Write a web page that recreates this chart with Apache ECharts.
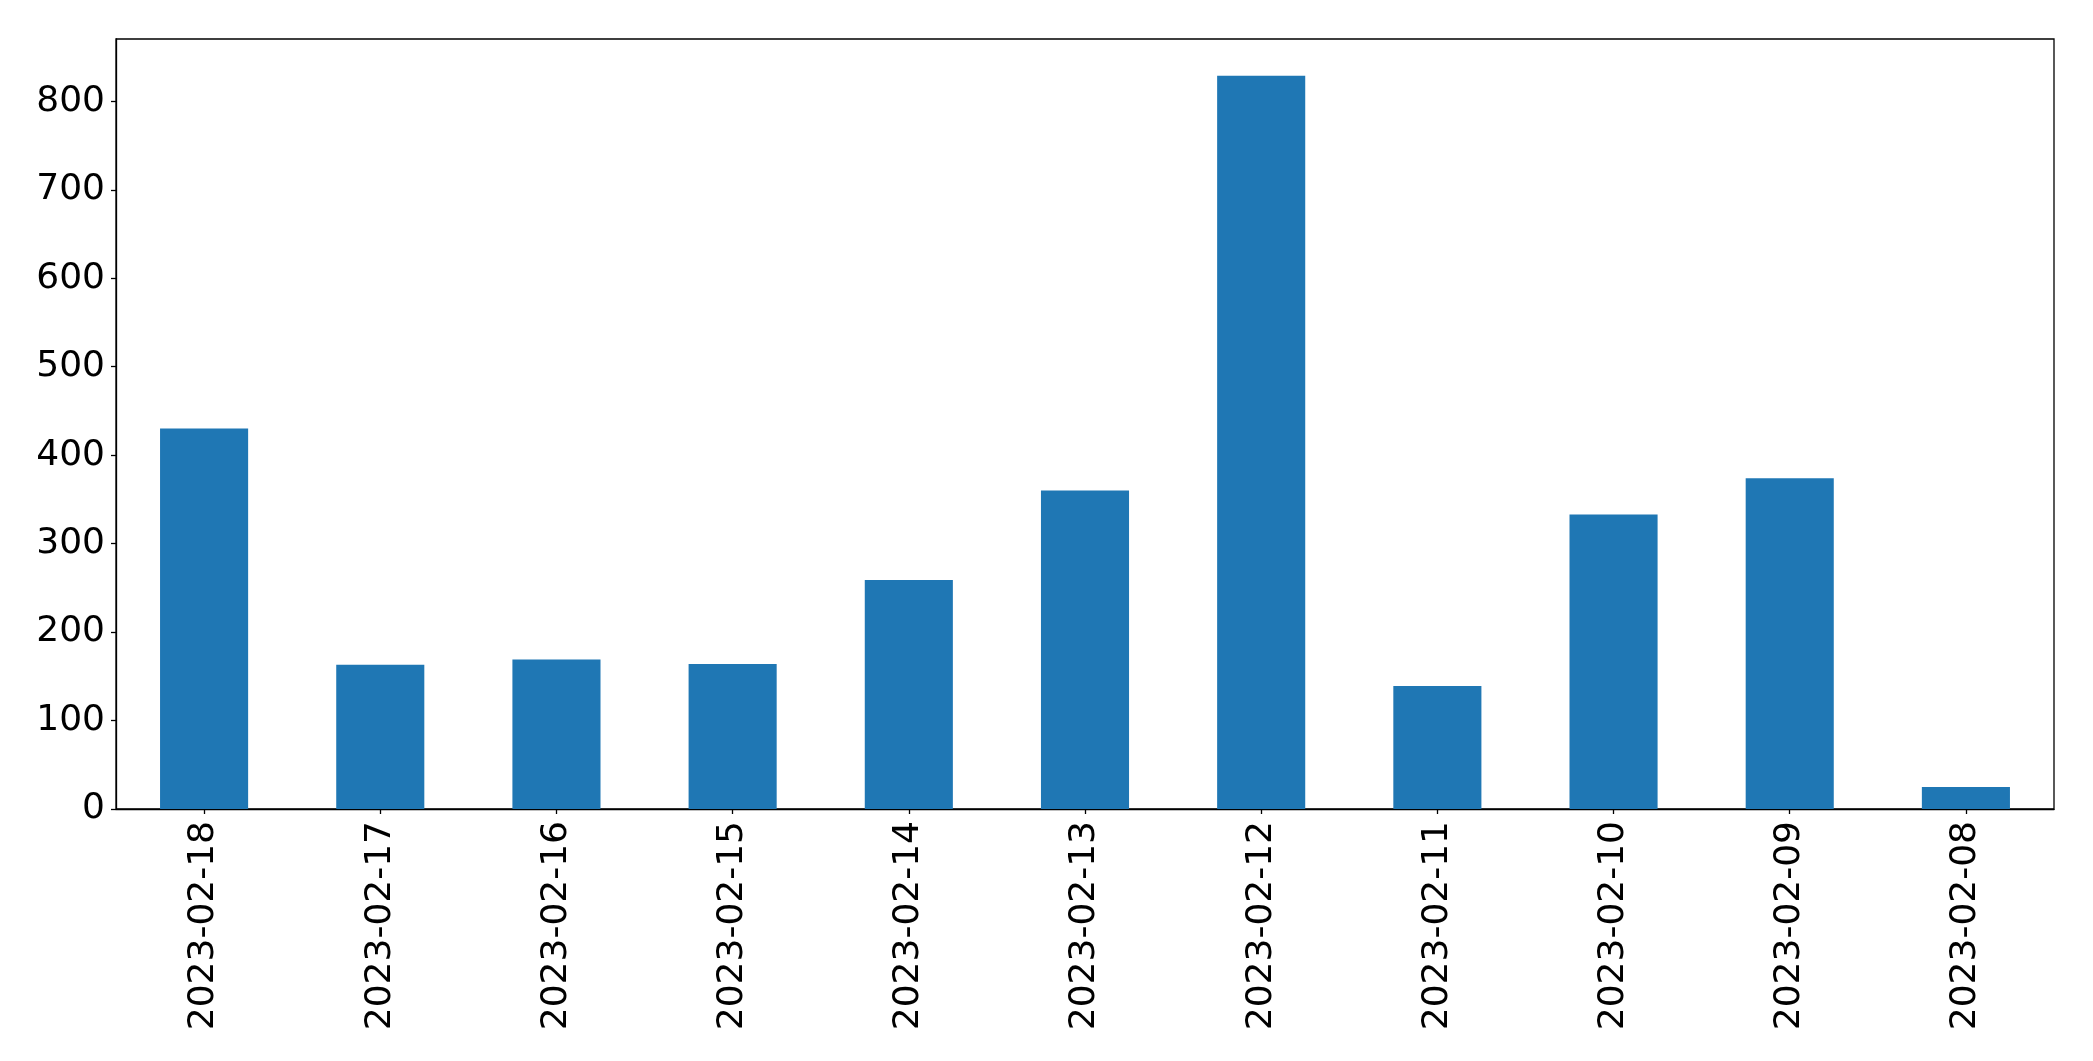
<!DOCTYPE html>
<html>
<head>
<meta charset="utf-8">
<script src="https://cdn.jsdelivr.net/npm/echarts@6/dist/echarts.min.js"></script>
<style>html,body{margin:0;padding:0;background:#fff;}#c{width:2093px;height:1061px;}</style>
</head>
<body>
<div id="c"></div>
<script>
const categories = ['2023-02-18','2023-02-17','2023-02-16','2023-02-15','2023-02-14','2023-02-13','2023-02-12','2023-02-11','2023-02-10','2023-02-09','2023-02-08'];
const values = [430, 163, 169, 164, 259, 360, 829, 139, 333, 374, 25];
const yMax = 870.45;
const yInterval = 100;

const chart = echarts.init(document.getElementById('c'), null, {renderer: 'canvas'});
const font = 'DejaVu Sans';
chart.setOption({
  animation: false,
  grid: {left: 116, right: 39, top: 39, bottom: 252, show: true, borderColor: '#000', borderWidth: 1.3, backgroundColor: 'transparent'},
  xAxis: {
    type: 'category',
    data: categories,
    boundaryGap: true,
    axisLine: {show: true, lineStyle: {color: '#000', width: 1.3}},
    axisTick: {show: true, alignWithLabel: true, length: 5, lineStyle: {color: '#000', width: 1.3}},
    axisLabel: {rotate: 90, margin: 12, color: '#000', fontSize: 36, fontFamily: font, interval: 0},
    splitLine: {show: false}
  },
  yAxis: {
    type: 'value',
    min: 0,
    max: yMax,
    interval: yInterval,
    axisLine: {show: true, lineStyle: {color: '#000', width: 1.3}},
    axisTick: {show: true, length: 5, lineStyle: {color: '#000', width: 1.3}},
    axisLabel: {margin: 11, color: '#000', fontSize: 36, fontFamily: font, showMaxLabel: false},
    splitLine: {show: false}
  },
  series: [{
    type: 'bar',
    data: values,
    barWidth: '50%',
    itemStyle: {color: '#1f77b4'}
  }]
});
</script>
</body>
</html>
